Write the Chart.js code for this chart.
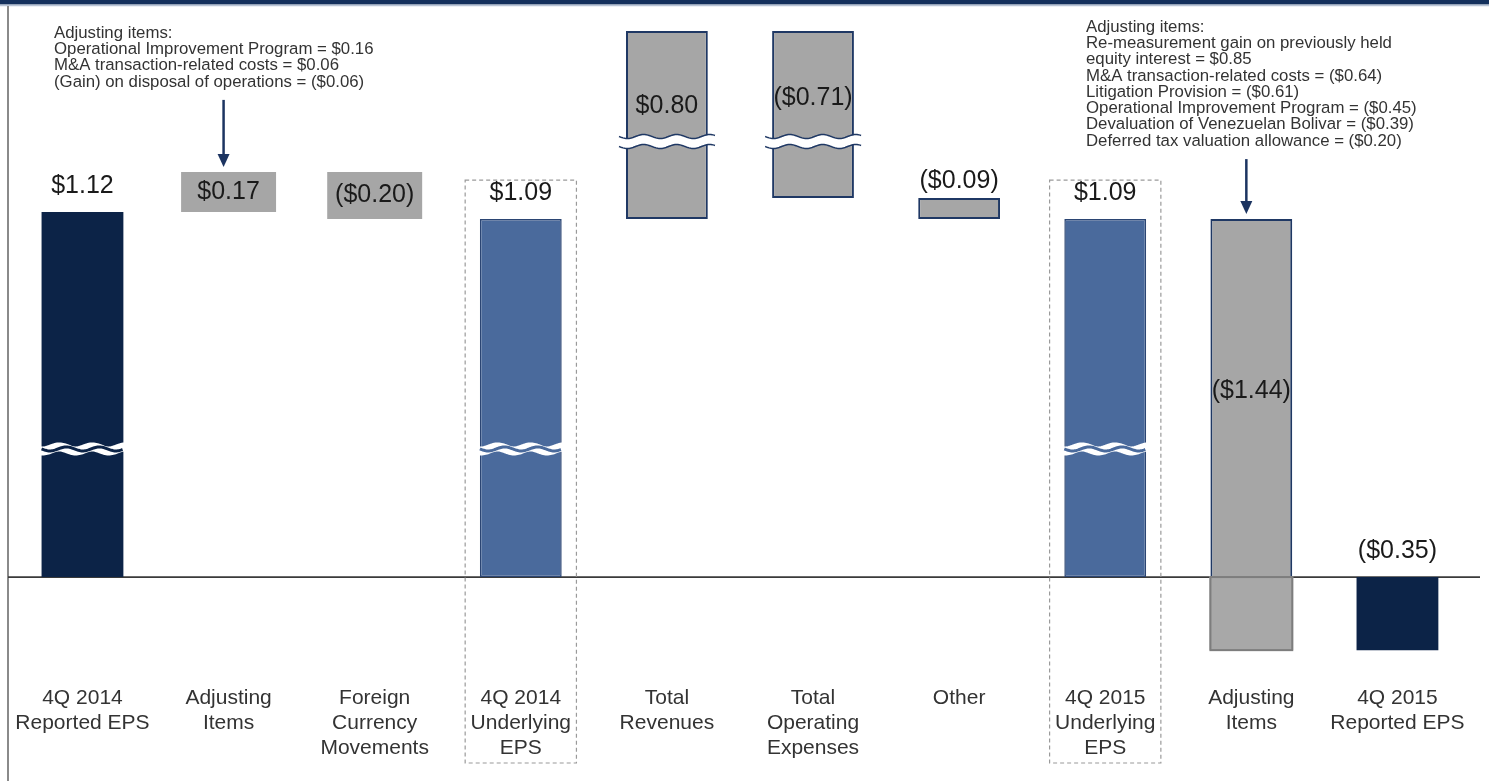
<!DOCTYPE html>
<html>
<head>
<meta charset="utf-8">
<title>4Q 2014 to 4Q 2015 EPS bridge</title>
<script src="https://cdn.jsdelivr.net/npm/chart.js@4.4.1/dist/chart.umd.min.js"></script>
<style>
  html, body { margin: 0; padding: 0; background: #fff; }
  canvas { display: block; }
</style>
</head>
<body>
<canvas id="epsChart" width="1489" height="781"></canvas>
<script>
const categories = [
  ['4Q 2014', 'Reported EPS'],
  ['Adjusting', 'Items'],
  ['Foreign', 'Currency', 'Movements'],
  ['4Q 2014', 'Underlying', 'EPS'],
  ['Total', 'Revenues'],
  ['Total', 'Operating', 'Expenses'],
  ['Other'],
  ['4Q 2015', 'Underlying', 'EPS'],
  ['Adjusting', 'Items'],
  ['4Q 2015', 'Reported EPS']
];
// total / subtotal = EPS level, step / note = change on the previous level
const barKinds = ['total', 'note', 'note', 'subtotal', 'step', 'step', 'step', 'subtotal', 'step', 'total'];
const epsValues = [1.12, 0.17, -0.20, 1.09, 0.80, -0.71, -0.09, 1.09, -1.44, -0.35];

const notes2014 = [
  'Adjusting items:',
  'Operational Improvement Program = $0.16',
  'M&A transaction-related costs = $0.06',
  '(Gain) on disposal of operations = ($0.06)'
];
const notes2015 = [
  'Adjusting items:',
  'Re-measurement gain on previously held',
  'equity interest = $0.85',
  'M&A transaction-related costs = ($0.64)',
  'Litigation Provision = ($0.61)',
  'Operational Improvement Program = ($0.45)',
  'Devaluation of Venezuelan Bolivar = ($0.39)',
  'Deferred tax valuation allowance = ($0.20)'
];

// the value axis is broken, so it is piecewise linear: [value, fraction of plot height]
const axisKnots = [[-0.45, 0], [0, 0.1437], [1.09, 0.6911], [1.95, 1]];
const axisBreaks = [
  { value: 0.39, kinds: ['total', 'subtotal'] },
  { value: 1.42, kinds: ['step'] }
];

const NAVY = '#0c2347';
const LINE_NAVY = '#1f3864';
const FONT = '"Liberation Sans", Arial, sans-serif';

function warp(v) {
  const k = axisKnots;
  let i = 1;
  while (i < k.length - 1 && v > k[i][0]) i++;
  const [v0, f0] = k[i - 1], [v1, f1] = k[i];
  return f0 + (v - v0) * (f1 - f0) / (v1 - v0);
}
function unwarp(f) {
  const k = axisKnots;
  let i = 1;
  while (i < k.length - 1 && f > k[i][1]) i++;
  const [v0, f0] = k[i - 1], [v1, f1] = k[i];
  return v0 + (f - f0) * (v1 - v0) / (f1 - f0);
}

class BrokenLinearScale extends Chart.LinearScale {
  getPixelForValue(value) {
    if (value === null || isNaN(value)) return NaN;
    return this.getPixelForDecimal(warp(value));
  }
  getValueForPixel(pixel) {
    return unwarp(this.getDecimalForPixel(pixel));
  }
}
BrokenLinearScale.id = 'brokenLinear';
BrokenLinearScale.defaults = Chart.LinearScale.defaults;
Chart.register(BrokenLinearScale);

function money(v) {
  const s = '$' + Math.abs(v).toFixed(2);
  return v < 0 ? '(' + s + ')' : s;
}

// floating ranges for the waterfall
const ranges = [];
let level = 0;
epsValues.forEach((v, i) => {
  if (barKinds[i] === 'total' || barKinds[i] === 'subtotal') {
    ranges.push([0, v]);
    level = v;
  } else {
    ranges.push([level, level + v]);
    level += v;
  }
});

const kindStyles = {
  total:    { backgroundColor: NAVY, borderWidth: 0, barPercentage: 0.56 },
  subtotal: { backgroundColor: '#4a6a9c', borderColor: '#2b4573', borderWidth: 1.5, barPercentage: 0.56 },
  step:     { backgroundColor: '#a6a6a6', borderColor: LINE_NAVY, borderWidth: 2, barPercentage: 0.56 },
  note:     { backgroundColor: '#a6a6a6', borderWidth: 0, barPercentage: 0.65 }
};

const datasets = Object.keys(kindStyles).map(kind => ({
  label: kind,
  data: ranges.map((r, i) => barKinds[i] === kind ? r : null),
  grouped: false,
  categoryPercentage: 1,
  borderSkipped: false,
  ...kindStyles[kind]
}));

function wave(ctx, x0, x1, y) {
  ctx.beginPath();
  for (let x = x0; x <= x1; x++) {
    const yy = y + 2 * Math.sin((x - x0) / 33 * 2 * Math.PI);
    if (x === x0) ctx.moveTo(x, yy); else ctx.lineTo(x, yy);
  }
  ctx.stroke();
}

function eachBar(chart, fn) {
  chart.data.datasets.forEach((ds, di) => {
    chart.getDatasetMeta(di).data.forEach((bar, i) => {
      if (ds.data[i] == null) return;
      const top = Math.min(bar.y, bar.base), bottom = Math.max(bar.y, bar.base);
      fn(bar, i, top, bottom, ds);
    });
  });
}

const bridgeDecor = {
  id: 'bridgeDecor',
  beforeDraw(chart) {
    const ctx = chart.ctx;
    ctx.save();
    ctx.fillStyle = '#fff';
    ctx.fillRect(0, 0, chart.width, chart.height);
    ctx.fillStyle = '#14305c';
    ctx.fillRect(0, 0, chart.width, 4.5);
    ctx.strokeStyle = '#b9c4d6';
    ctx.lineWidth = 1.5;
    ctx.beginPath(); ctx.moveTo(0, 5.5); ctx.lineTo(chart.width, 5.5); ctx.stroke();
    ctx.strokeStyle = '#8a8a8a';
    ctx.lineWidth = 2;
    ctx.beginPath(); ctx.moveTo(8, 6); ctx.lineTo(8, chart.height); ctx.stroke();
    ctx.restore();
  },
  beforeDatasetsDraw(chart) {
    const ctx = chart.ctx;
    const zero = chart.scales.y.getPixelForValue(0);
    ctx.save();
    ctx.strokeStyle = '#3a3a3a';
    ctx.lineWidth = 1.8;
    ctx.beginPath(); ctx.moveTo(8, zero); ctx.lineTo(1480, zero); ctx.stroke();
    // dashed frames round the underlying EPS bars
    ctx.strokeStyle = '#9a9a9a';
    ctx.lineWidth = 1.2;
    ctx.setLineDash([4, 3]);
    eachBar(chart, (bar, i, top) => {
      if (barKinds[i] !== 'subtotal') return;
      const half = bar.width * 0.68;
      ctx.strokeRect(bar.x - half, top - 39, half * 2, chart.height - 18 - (top - 39));
    });
    ctx.restore();
  },
  afterDatasetsDraw(chart) {
    const ctx = chart.ctx;
    const y = chart.scales.y;
    const zero = y.getPixelForValue(0);
    ctx.save();

    // step bars that cross zero get a grey outline below the line
    eachBar(chart, (bar, i, top, bottom) => {
      if (barKinds[i] !== 'step' || bottom <= zero + 1) return;
      const left = bar.x - bar.width / 2;
      ctx.fillStyle = '#a8a8a8';
      ctx.fillRect(left - 1, zero - 1, bar.width + 2, bottom - zero + 1);
      ctx.strokeStyle = '#7d7d7d';
      ctx.lineWidth = 2;
      ctx.strokeRect(left, zero, bar.width, bottom - zero);
    });

    // axis break marks
    axisBreaks.forEach(br => {
      const py = y.getPixelForValue(br.value);
      eachBar(chart, (bar, i, top, bottom, ds) => {
        if (!br.kinds.includes(barKinds[i]) || py <= top || py >= bottom) return;
        const x0 = bar.x - bar.width / 2 - 7, x1 = bar.x + bar.width / 2 + 8;
        ctx.strokeStyle = '#fff';
        ctx.lineWidth = 9;
        wave(ctx, x0, x1, py);
        if (barKinds[i] === 'step') {
          ctx.strokeStyle = LINE_NAVY;
          ctx.lineWidth = 1.5;
          wave(ctx, x0, x1, py - 5);
          wave(ctx, x0, x1, py + 5);
        } else {
          ctx.strokeStyle = ds.backgroundColor;
          ctx.lineWidth = 3;
          wave(ctx, bar.x - bar.width / 2, bar.x + bar.width / 2, py);
        }
      });
    });

    // value labels
    ctx.fillStyle = '#1a1a1a';
    ctx.font = '25px ' + FONT;
    ctx.textAlign = 'center';
    ctx.textBaseline = 'middle';
    eachBar(chart, (bar, i, top, bottom) => {
      const kind = barKinds[i];
      const h = bottom - top;
      let ly;
      if (kind === 'total' || kind === 'subtotal') ly = top - 26;
      else if (kind === 'note') ly = top + h / 2;
      else if (h > 120) ly = top + h * 0.4;
      else ly = top - 17;
      ctx.fillText(money(epsValues[i]), bar.x, ly);
    });

    // adjusting item notes with arrows
    const opts = chart.options.plugins.bridgeDecor;
    opts.notes.forEach(n => {
      ctx.fillStyle = '#333';
      ctx.font = '16.8px ' + FONT;
      ctx.textAlign = 'left';
      n.lines.forEach((t, k) => ctx.fillText(t, n.x, n.y + k * 16.3));
      const bar = chart.getDatasetMeta(Object.keys(kindStyles).indexOf(barKinds[n.category])).data[n.category];
      const ax = bar.x - 5;
      const tip = Math.min(bar.y, bar.base) - 5;
      const start = n.y + (n.lines.length - 1) * 16.3 + 18;
      ctx.strokeStyle = '#1c3461';
      ctx.fillStyle = '#1c3461';
      ctx.lineWidth = 2.5;
      ctx.beginPath(); ctx.moveTo(ax, start); ctx.lineTo(ax, tip - 10); ctx.stroke();
      ctx.beginPath();
      ctx.moveTo(ax - 6, tip - 13); ctx.lineTo(ax + 6, tip - 13); ctx.lineTo(ax, tip);
      ctx.closePath(); ctx.fill();
    });
    ctx.restore();
  }
};

new Chart(document.getElementById('epsChart'), {
  type: 'bar',
  data: { labels: categories, datasets },
  options: {
    responsive: false,
    animation: false,
    devicePixelRatio: 1,
    layout: { padding: { left: 7, right: 18.5, top: 17, bottom: 5 } },
    plugins: {
      legend: { display: false },
      tooltip: { enabled: false },
      bridgeDecor: {
        notes: [
          { category: 1, lines: notes2014, x: 54, y: 33 },
          { category: 8, lines: notes2015, x: 1086, y: 27 }
        ]
      }
    },
    scales: {
      x: {
        grid: { display: false, drawTicks: false },
        border: { display: false },
        ticks: {
          color: '#333',
          font: { family: FONT, size: 21, lineHeight: 1.19 },
          padding: 15,
          maxRotation: 0,
          autoSkip: false
        }
      },
      y: {
        type: 'brokenLinear',
        display: false,
        min: -0.45,
        max: 1.95
      }
    }
  },
  plugins: [bridgeDecor]
});
</script>
</body>
</html>
